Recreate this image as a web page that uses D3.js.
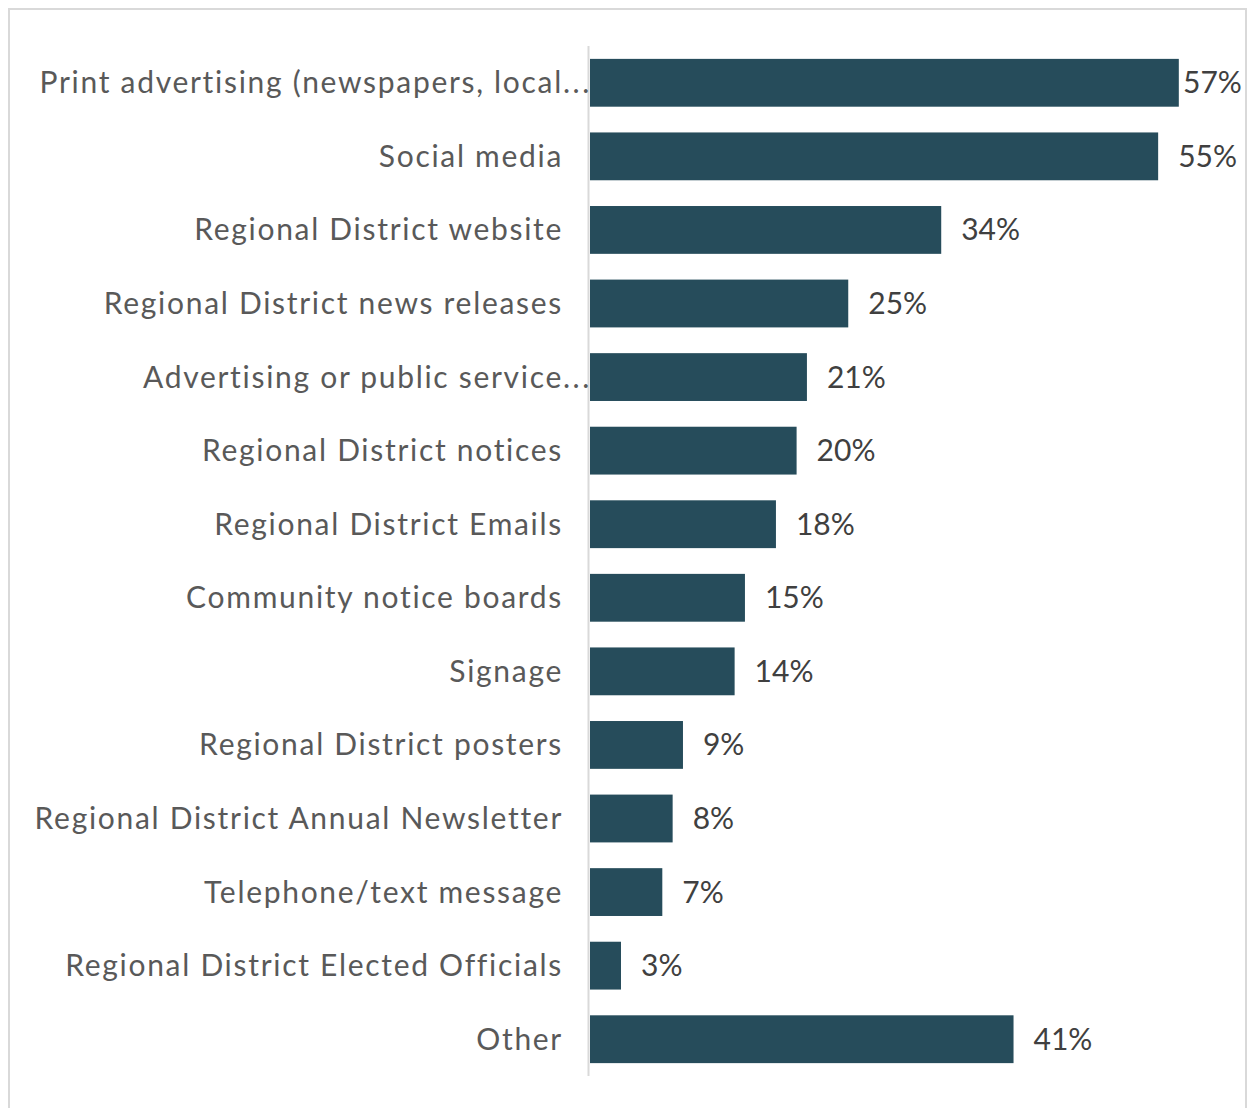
<!DOCTYPE html>
<html>
<head>
<meta charset="utf-8">
<script src="https://cdn.jsdelivr.net/npm/d3@7"></script>
<style>
  html, body { margin: 0; padding: 0; background: #fff; }
  svg { display: block; }
</style>
</head>
<body>
<script>
// Communication channels and the share of respondents using each
const categories = [
  "Print advertising (newspapers, local...",
  "Social media",
  "Regional District website",
  "Regional District news releases",
  "Advertising or public service...",
  "Regional District notices",
  "Regional District Emails",
  "Community notice boards",
  "Signage",
  "Regional District posters",
  "Regional District Annual Newsletter",
  "Telephone/text message",
  "Regional District Elected Officials",
  "Other"
];
const values = [57, 55, 34, 25, 21, 20, 18, 15, 14, 9, 8, 7, 3, 41];

const W = 1249, H = 1108;
const font = "Lato, 'Open Sans', sans-serif";

const svg = d3.select("body").append("svg")
  .attr("width", W).attr("height", H);

// outer frame
svg.append("rect")
  .attr("x", 9).attr("y", 9)
  .attr("width", W - 12).attr("height", H + 10)
  .attr("fill", "#fff")
  .attr("stroke", "#d9d9d9").attr("stroke-width", 2);

const y = d3.scaleBand()
  .domain(categories)
  .range([46, 1076])
  .paddingInner(0.35)
  .paddingOuter(0.175);

const x = d3.scaleLinear()
  .domain([0, 60])
  .range([590, 590 + 60 * 10.33]);

const labelRight = 1183; // value labels are kept inside the plot area

// bars
svg.append("g").selectAll("rect")
  .data(values)
  .join("rect")
  .attr("x", x(0))
  .attr("y", (d, i) => y(categories[i]))
  .attr("width", d => x(d) - x(0))
  .attr("height", y.bandwidth())
  .attr("fill", "#264c5b");

// vertical category axis line
svg.append("line")
  .attr("x1", 588.5).attr("x2", 588.5)
  .attr("y1", 46).attr("y2", 1076)
  .attr("stroke", "#d9d9d9").attr("stroke-width", 2);

// category labels (truncated ones let the ellipsis run into the gap)
const cat = svg.append("g")
  .attr("font-family", font)
  .attr("font-size", 30)
  .attr("letter-spacing", "1.7px")
  .attr("fill", "#595959");

categories.forEach(c => {
  const cy = y(c) + y.bandwidth() / 2;
  const truncated = c.endsWith("...");
  cat.append("text")
    .attr("x", 563).attr("y", cy).attr("dy", "0.35em")
    .attr("text-anchor", "end")
    .text(truncated ? c.slice(0, -3) : c);
  if (truncated) {
    cat.append("text")
      .attr("x", 563).attr("y", cy).attr("dy", "0.35em")
      .attr("text-anchor", "start")
      .attr("letter-spacing", "2.5px")
      .text("...");
  }
});

// value labels
svg.append("g")
  .attr("font-family", font)
  .attr("font-size", 30)
  .attr("fill", "#404040")
  .selectAll("text")
  .data(values)
  .join("text")
  .attr("x", d => Math.min(x(d) + 20, labelRight))
  .attr("y", (d, i) => y(categories[i]) + y.bandwidth() / 2)
  .attr("dy", "0.35em")
  .text(d => d + "%");
</script>
</body>
</html>
